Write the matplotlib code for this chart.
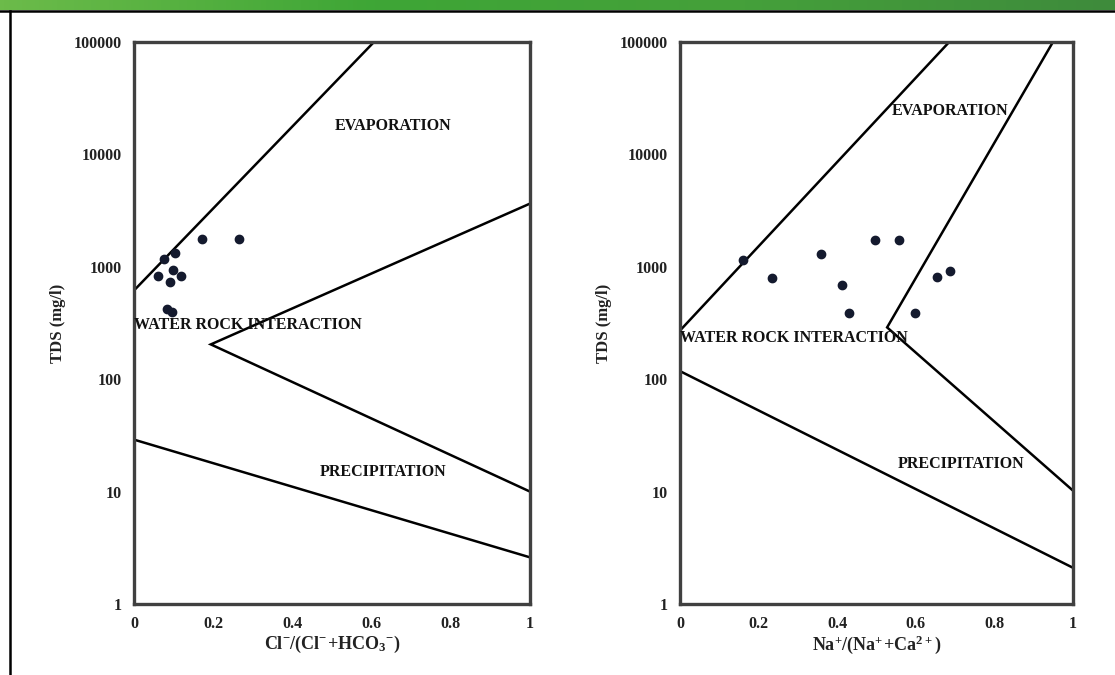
import numpy as np
import matplotlib
matplotlib.use("Agg")
import matplotlib.pyplot as plt
from matplotlib.lines import Line2D
from matplotlib.colors import LinearSegmentedColormap

plt.rcParams['font.family'] = ['Liberation Serif', 'DejaVu Serif']
plt.rcParams['font.weight'] = 'bold'
plt.rcParams['mathtext.fontset'] = 'custom'
plt.rcParams['mathtext.rm'] = 'Liberation Serif:bold'
plt.rcParams['mathtext.bf'] = 'Liberation Serif:bold'
plt.rcParams['mathtext.it'] = 'Liberation Serif:bold'

# ---- data ----
x_ticks = [0, 0.2, 0.4, 0.6, 0.8, 1]
x_tick_labels = ['0', '0.2', '0.4', '0.6', '0.8', '1']
y_ticks = [1, 10, 100, 1000, 10000, 100000]
y_tick_labels = ['1', '10', '100', '1000', '10000', '100000']

# Left panel: Cl/(Cl+HCO3)
cl_ratio = [0.172, 0.265, 0.104, 0.076, 0.098, 0.061, 0.119, 0.091, 0.083, 0.096]
cl_tds = [1780, 1780, 1340, 1180, 945, 835, 835, 725, 417, 400]
cl_evap_x = [0.0, 0.606]
cl_evap_y = [616, 100000]
cl_wri_x = [1.0, 0.194, 1.0]
cl_wri_y = [3650, 204, 10]
cl_prec_x = [0.0, 1.0]
cl_prec_y = [29, 2.6]

# Right panel: Na/(Na+Ca)
na_ratio = [0.160, 0.234, 0.358, 0.495, 0.556, 0.411, 0.431, 0.599, 0.655, 0.688]
na_tds = [1160, 802, 1310, 1740, 1740, 695, 392, 392, 818, 925]
na_evap_x = [0.0, 0.685]
na_evap_y = [271, 100000]
na_wri_x = [0.949, 0.527, 1.0]
na_wri_y = [100000, 289, 10.2]
na_prec_x = [0.0, 1.0]
na_prec_y = [118, 2.1]

W, H = 1115, 675
fig = plt.figure(figsize=(W / 100, H / 100), dpi=100)
fig.patch.set_facecolor('white')

# header gradient bar
hax = fig.add_axes([0, 1 - 10 / H, 1, 10 / H])
grad = np.linspace(0, 1, 256)
cmap = LinearSegmentedColormap.from_list('g', ['#6cbb4a', '#3ea636', '#45a03a', '#3e8b3c'])
hax.imshow(grad[None, :], aspect='auto', cmap=cmap, extent=[0, 1, 0, 1])
hax.set_axis_off()

# border lines
fig.add_artist(Line2D([0, 1], [1 - 11 / H, 1 - 11 / H], color='black', lw=1.8))
fig.add_artist(Line2D([10 / W, 10 / W], [0, 1 - 11 / H], color='black', lw=1.8))

frame_color = '#404040'
line_kw = dict(color='black', lw=1.8, solid_joinstyle='miter')
pt_kw = dict(ls='none', marker='o', ms=6, color='#141a2e')
txt_kw = dict(fontsize=11.5, fontweight='bold', color='#111111')


def setup(ax, xlabel):
    ax.set_yscale('log')
    ax.set_xlim(0, 1)
    ax.set_ylim(1, 100000)
    ax.set_xticks(x_ticks)
    ax.set_xticklabels(x_tick_labels)
    ax.set_yticks(y_ticks)
    ax.set_yticklabels(y_tick_labels)
    ax.minorticks_off()
    ax.tick_params(axis='x', length=0, labelsize=11.5, pad=9)
    ax.tick_params(axis='y', length=0, labelsize=11.5, pad=9)
    for lab in ax.get_xticklabels() + ax.get_yticklabels():
        lab.set_fontweight('bold')
        lab.set_color('#222222')
    for s in ax.spines.values():
        s.set_color(frame_color)
        s.set_linewidth(2.4)
    ax.set_xlabel(xlabel, fontsize=13, labelpad=1, color='#222222')
    ax.set_ylabel('TDS (mg/l)', fontsize=12, labelpad=5, color='#222222', fontweight='bold')


ax1 = fig.add_axes([134 / W, 1 - 604 / H, 396 / W, 562 / H])
setup(ax1, r'$\mathbf{Cl^{-}/(Cl^{-}\!+\!HCO_{3}{}^{-})}$')
ax1.plot(cl_evap_x, cl_evap_y, **line_kw)
ax1.plot(cl_wri_x, cl_wri_y, **line_kw)
ax1.plot(cl_prec_x, cl_prec_y, **line_kw)
ax1.plot(cl_ratio, cl_tds, **pt_kw)
ax1.text(0.654, 17900, 'EVAPORATION', ha='center', va='center', **txt_kw)
ax1.text(0.0, 302, 'WATER ROCK INTERACTION', ha='left', va='center', **txt_kw)
ax1.text(0.629, 14.9, 'PRECIPITATION', ha='center', va='center', **txt_kw)

ax2 = fig.add_axes([680 / W, 1 - 604 / H, 393 / W, 562 / H])
setup(ax2, r'$\mathbf{Na^{+}/(Na^{+}\!+\!Ca^{2+})}$')
ax2.plot(na_evap_x, na_evap_y, **line_kw)
ax2.plot(na_wri_x, na_wri_y, **line_kw)
ax2.plot(na_prec_x, na_prec_y, **line_kw)
ax2.plot(na_ratio, na_tds, **pt_kw)
ax2.text(0.687, 24300, 'EVAPORATION', ha='center', va='center', **txt_kw)
ax2.text(0.0, 233, 'WATER ROCK INTERACTION', ha='left', va='center', **txt_kw)
ax2.text(0.715, 17.6, 'PRECIPITATION', ha='center', va='center', **txt_kw)

fig.savefig('out.png', dpi=100, facecolor='white')
